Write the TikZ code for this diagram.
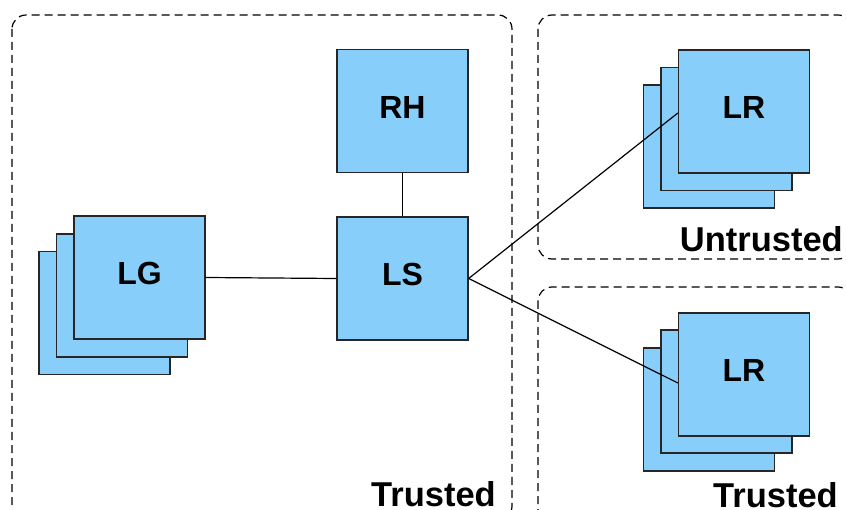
\documentclass[tikz,border=0pt]{standalone}
\usepackage{fontspec}
\setmainfont{Liberation Sans}
\begin{document}
\begin{tikzpicture}[x=1pt,y=-1pt,
  zone/.style={draw=black,line width=1.2pt,dash pattern=on 8pt off 5pt,rounded corners=14pt},
  unit/.style={draw=black!85,line width=1.3pt,fill=skyfill,minimum width=131pt,minimum height=123pt,inner sep=0pt,
               text depth=8pt,font=\fontsize{32}{34}\selectfont\bfseries},
  zonelabel/.style={anchor=base east,inner sep=0pt,font=\fontsize{34.5}{36}\selectfont\bfseries},
  link/.style={draw=black,line width=1.2pt}]
\definecolor{skyfill}{RGB}{135,206,250}
\useasboundingbox (0,0) rectangle (846,510);

% trust zones
\draw[zone] (12,15) rectangle (512,520);
\draw[zone] (538,15) rectangle (852,259);
\draw[zone] (538,287) rectangle (852,525);

% zone captions
\node[zonelabel] (tl) at (496,506) {Trusted};
\node[zonelabel] (ut) at (843,252) {Untrusted};
\node[zonelabel] (tr) at (838,507) {Trusted};

% LG stack
\node[unit] (lg3) at (104.5,313) {};
\node[unit] (lg2) at (122,295.5) {};
\node[unit] (lg)  at (139.5,277.5) {LG};

% central nodes
\node[unit] (rh) at (402.5,111) {RH};
\node[unit] (ls) at (402.5,278.5) {LS};

% upper LR stack
\node[unit] (lru3) at (709,146.5) {};
\node[unit] (lru2) at (726.5,129) {};
\node[unit] (lru)  at (744,111.5) {LR};

% lower LR stack
\node[unit] (lrl3) at (709,409.5) {};
\node[unit] (lrl2) at (726.5,391.5) {};
\node[unit] (lrl)  at (744,374.5) {LR};

% links
\draw[link] (rh.south) -- (ls.north);
\draw[link] (lg.east) -- (ls.west);
\draw[link] (ls.east) -- (lru.west |- 0,113);
\draw[link] (ls.east) -- (lrl.west |- 0,383);
\end{tikzpicture}
\end{document}
